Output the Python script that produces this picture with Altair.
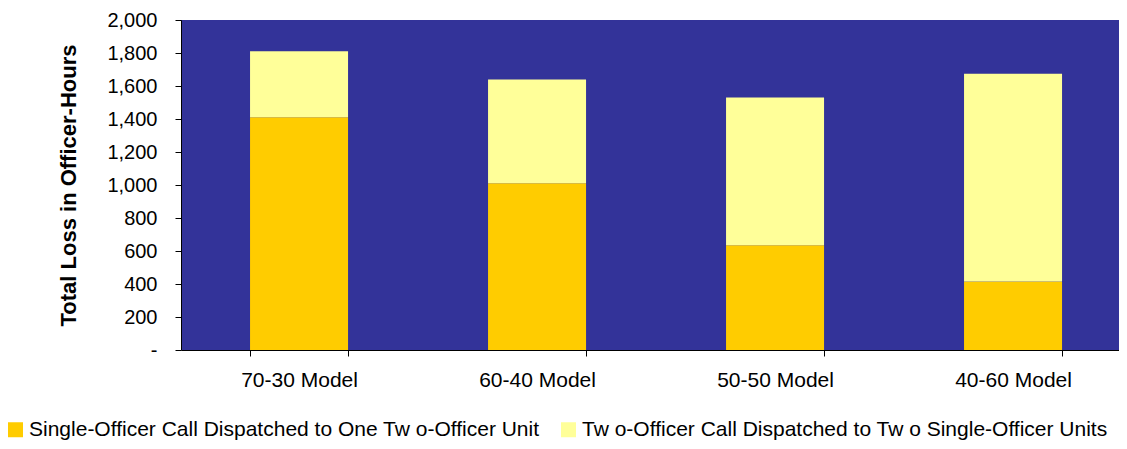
import altair as alt
import pandas as pd

models = ["70-30 Model", "60-40 Model", "50-50 Model", "40-60 Model"]
single_officer = [1410, 1010, 635, 415]
two_officer = [400, 630, 895, 1260]
series_names = [
    "Single-Officer Call Dispatched to One Tw o-Officer Unit",
    "Tw o-Officer Call Dispatched to Tw o Single-Officer Units",
]
series_colors = ["#FFCC00", "#FFFF99"]
y_ticks = [0, 200, 400, 600, 800, 1000, 1200, 1400, 1600, 1800, 2000]

rows = []
for m, a, b in zip(models, single_officer, two_officer):
    rows.append({"model": m, "series": series_names[0], "value": a, "order": 0})
    rows.append({"model": m, "series": series_names[1], "value": b, "order": 1})
df = pd.DataFrame(rows)

FONT = "Liberation Sans"

chart = (
    alt.Chart(df)
    .mark_bar()
    .encode(
        x=alt.X(
            "model:N",
            sort=models,
            title=None,
            scale=alt.Scale(paddingInner=0.5882, paddingOuter=0.2647, align=0.548),
            axis=alt.Axis(
                labelAngle=0,
                labelFontSize=21,
                labelFont=FONT,
                labelColor="#000000",
                labelPadding=13,
                tickBand="extent",
                tickSize=6,
                tickColor="#000000",
                domainColor="#000000",
                grid=False,
            ),
        ),
        y=alt.Y(
            "value:Q",
            stack="zero",
            scale=alt.Scale(domain=[0, 2000], nice=False),
            title="Total Loss in Officer-Hours",
            axis=alt.Axis(
                values=y_ticks,
                labelExpr="datum.value == 0 ? '-' : format(datum.value, ',')",
                labelFontSize=20,
                labelFont=FONT,
                labelColor="#000000",
                labelPadding=18,
                tickSize=6,
                tickColor="#000000",
                domainColor="#000000",
                grid=False,
                titleFont=FONT,
                titleFontSize=22,
                titleFontWeight="bold",
                titleColor="#000000",
                titlePadding=26,
            ),
        ),
        color=alt.Color(
            "series:N",
            scale=alt.Scale(domain=series_names, range=series_colors),
            sort=series_names,
            legend=alt.Legend(
                title=None,
                orient="none",
                legendX=-176,
                legendY=399,
                direction="horizontal",
                symbolType="square",
                symbolSize=225,
                symbolStrokeWidth=0,
                labelFont=FONT,
                labelFontSize=21,
                labelColor="#000000",
                labelOffset=3,
                columnPadding=18,
                padding=0,
                labelLimit=700,
            ),
        ),
        order=alt.Order("order:Q", sort="ascending"),
    )
    .properties(
        width=938,
        height=330,
        background="#FFFFFF",
        autosize=alt.AutoSizeParams(type="none"),
        padding={"left": 173, "top": 12, "right": 0, "bottom": 91},
    )
    .configure_view(fill="#333399", strokeWidth=0)
)

chart.save("out.html", embed_options={"renderer": "svg", "actions": False})
